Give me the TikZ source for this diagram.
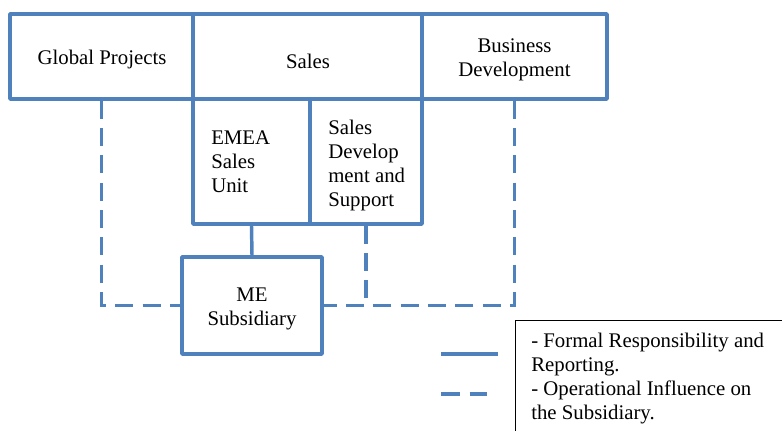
\documentclass[tikz,border=0pt]{standalone}
\usepackage{fontspec}
\setmainfont{Liberation Serif}
\definecolor{boxblue}{RGB}{79,129,189}
\tikzset{
  orgbox/.style={draw=boxblue, line width=2.6pt, line join=round, inner sep=0pt},
  boxtext/.style={inner sep=0pt, font=\fontsize{15.6}{18}\selectfont},
  solidlink/.style={draw=boxblue, line width=2.6pt},
  dashlink/.style={draw=boxblue, line width=2.6pt, dash pattern=on 13.5pt off 7pt},
  legtext/.style={inner sep=0pt, align=left, font=\fontsize{15.6}{18}\selectfont},
}
\begin{document}
\begin{tikzpicture}[x=0.75pt,y=-0.75pt]
\useasboundingbox (0,0) rectangle (782,430);
\begin{scope}
\clip (0,0) rectangle (782,430);
% boxes
\node[orgbox, minimum width=137.25pt, minimum height=63.75pt] (gp) at (101.5,56.5) {};
\node[orgbox, minimum width=171.75pt, minimum height=63.75pt] (sales) at (307.5,56.5) {};
\node[orgbox, minimum width=138.75pt, minimum height=63.75pt] (bd) at (514.5,56.5) {};
\node[orgbox, minimum width=87.75pt, minimum height=93.75pt] (emea) at (251.5,161.5) {};
\node[orgbox, minimum width=84pt, minimum height=93.75pt] (sd) at (366,161.5) {};
\node[orgbox, minimum width=105pt, minimum height=72.75pt] (me) at (252,305.5) {};
% texts
\node[boxtext] (gpt) at (102,59) {Global Projects};
\node[boxtext] (salest) at (308,61) {Sales};
\node[boxtext, align=center] (bdt) at (514.5,60) {Business\\Development};
\node[boxtext, align=left, anchor=west] (emeat) at (211,162) {EMEA\\Sales\\Unit};
\node[boxtext, align=left, anchor=west] (sdt) at (328,165) {Sales\\Develop\\ment and\\Support};
\node[boxtext, align=center] (met) at (252,309) {ME\\Subsidiary};
% connectors
\draw[solidlink] (emea.south) -- (me.north);
\draw[dashlink] (gp.south) |- (me.west);
\draw[dashlink] (bd.south) |- (me.east);
\draw[dashlink] (sd.south) -- (sd.south |- me.east);
% legend
\coordinate (ls1) at (441,354);
\coordinate (ls2) at (498,354);
\coordinate (ld1) at (441,394);
\coordinate (ld2) at (487,394);
\draw[solidlink, line width=2.4pt] (ls1) -- (ls2);
\draw[draw=boxblue, line width=2.4pt, dash pattern=on 14pt off 7.5pt] (ld1) -- (ld2);
\node[draw=black, line width=1pt, anchor=north west, minimum width=250pt, minimum height=120pt, inner sep=0pt] (legbox) at (514.7,320) {};
\node[legtext, anchor=north west] (legtxt) at (531,333) {- Formal Responsibility and\\Reporting.\\- Operational Influence on\\the Subsidiary.};
\end{scope}
\end{tikzpicture}
\end{document}
